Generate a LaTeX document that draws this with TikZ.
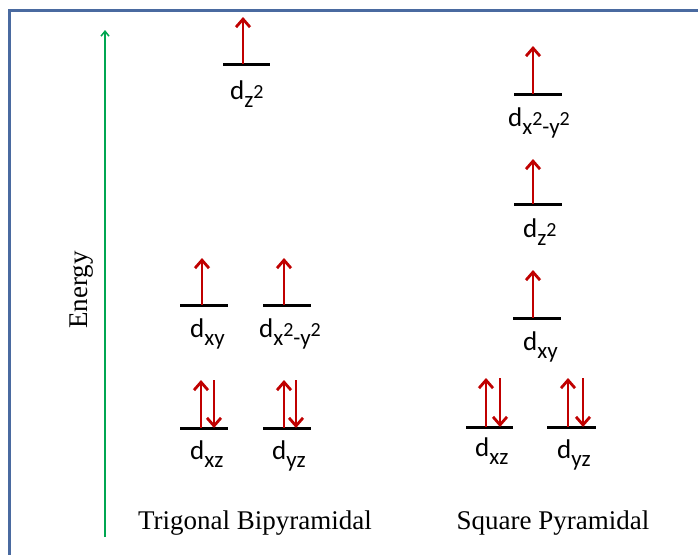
\documentclass[tikz,border=0pt]{standalone}
\usepackage{fontspec}
\setmainfont{Liberation Serif}
\newfontfamily\orbfont{Carlito}
\usetikzlibrary{arrows.meta}

\definecolor{framblue}{RGB}{74,106,160}
\definecolor{spinred}{RGB}{192,0,0}
\definecolor{energygreen}{RGB}{0,166,81}

\newcommand{\orb}[1]{{\orbfont\fontsize{27}{30}\selectfont d\raisebox{-8pt}{\fontsize{23}{24}\selectfont #1}}}
\newcommand{\sqr}{\raisebox{9pt}{\fontsize{20}{22}\selectfont 2}}

\begin{document}
\begin{tikzpicture}[x=1pt,y=-1pt,
  level/.style={line width=3pt, black},
  spin/.style={line width=2.8pt, spinred, -{Straight Barb[length=8pt,width=14pt]}},
  orblabel/.style={anchor=base west, inner sep=0pt},
  title/.style={font=\fontsize{27}{30}\selectfont}]
\useasboundingbox (0,0) rectangle (698,554);
\clip (0,0) rectangle (698,554);
\fill[white] (0,0) rectangle (698,554);
\draw[line width=3pt, framblue] (9,10) rectangle (720,580);

\draw[line width=1.5pt, energygreen, -{Straight Barb[length=5pt,width=8pt]}] (105,537) -- (105,30);
\node[title, rotate=90] (energy) at (82,290) {Energy};

\draw[level] (223,64) -- (270,64);
\draw[spin] (243,64) -- (243,17);
\node[orblabel] (tbpz) at (230,99) {\orb{z\sqr}};

\draw[level] (180,305) -- (228,305);
\draw[spin] (202,305) -- (202,258);
\node[orblabel] (tbpxy) at (190,337) {\orb{xy}};

\draw[level] (263,305) -- (311,305);
\draw[spin] (284,305) -- (284,258);
\node[orblabel] (tbpx) at (259,337) {\orb{x\sqr-y\sqr}};

\draw[level] (180,428) -- (228,428);
\draw[spin] (201,428) -- (201,380);
\draw[spin] (214,380) -- (214,428);
\node[orblabel] (tbpxz) at (190,459) {\orb{xz}};

\draw[level] (263,428) -- (311,428);
\draw[spin] (284,428) -- (284,380);
\draw[spin] (296,380) -- (296,428);
\node[orblabel] (tbpyz) at (272,459) {\orb{yz}};

\draw[level] (514,94) -- (562,94);
\draw[spin] (533,94) -- (533,46);
\node[orblabel] (spx) at (508,126) {\orb{x\sqr-y\sqr}};

\draw[level] (514,204) -- (562,204);
\draw[spin] (533,204) -- (533,159);
\node[orblabel] (spz) at (523,237) {\orb{z\sqr}};

\draw[level] (513,318) -- (561,318);
\draw[spin] (533,318) -- (533,270);
\node[orblabel] (spxy) at (523,350) {\orb{xy}};

\draw[level] (466,427) -- (513,427);
\draw[spin] (486,427) -- (486,378);
\draw[spin] (500,378) -- (500,427);
\node[orblabel] (spxz) at (475,456) {\orb{xz}};

\draw[level] (547,427) -- (596,427);
\draw[spin] (568,427) -- (568,378);
\draw[spin] (583,378) -- (583,427);
\node[orblabel] (spyz) at (557,458) {\orb{yz}};

\node[title] (tbp) at (255,523) {Trigonal Bipyramidal};
\node[title] (sp) at (553,523) {Square Pyramidal};
\end{tikzpicture}
\end{document}
